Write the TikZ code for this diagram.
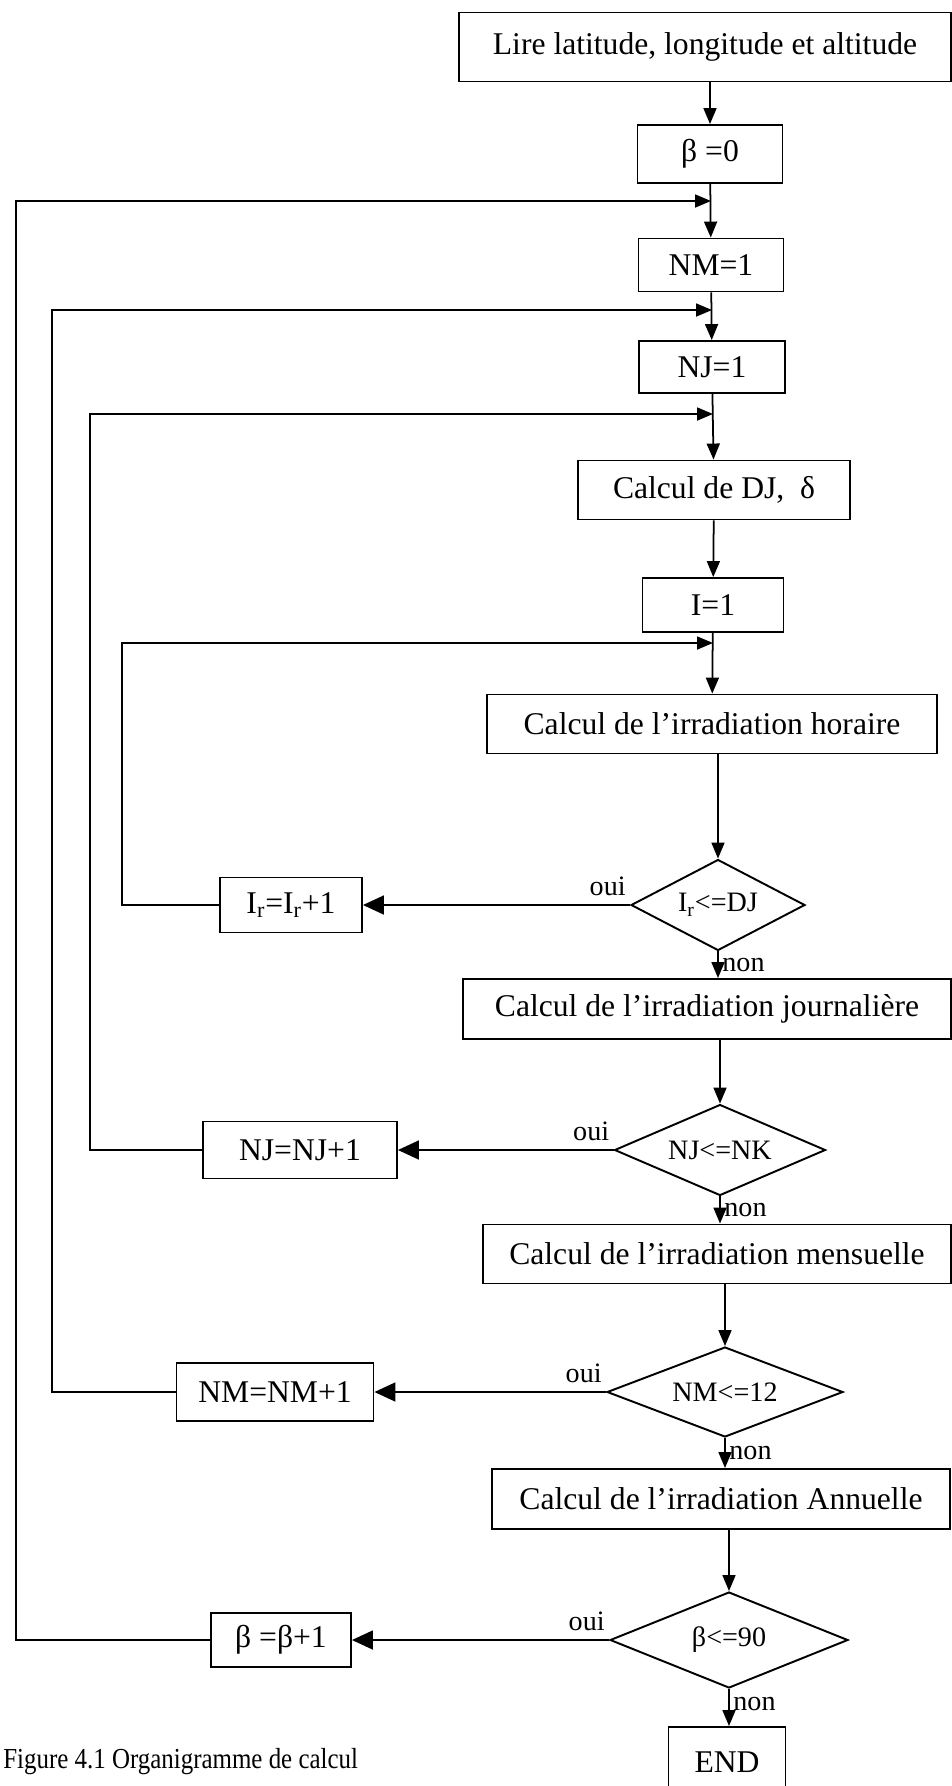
\documentclass[tikz,border=0pt]{standalone}
\usepackage{fontspec}
\setmainfont{Liberation Serif}
\newfontfamily\legendefont{Liberation Serif}[FakeStretch=0.86]
\usepackage{tikz}
\usetikzlibrary{arrows.meta,shapes.geometric}

\begin{document}
\begin{tikzpicture}[x=0.02cm, y=-0.02cm,
    etape/.style={draw, line width=1.1pt, inner sep=0pt, font=\fontsize{18}{20}\selectfont},
    test/.style={draw, diamond, aspect=2, line width=1.1pt, inner sep=0pt, font=\fontsize{16}{18}\selectfont},
    fleche/.style={line width=1pt, -{Triangle[length=0.32cm, width=0.26cm]}},
    grossefleche/.style={line width=1pt, -{Triangle[length=0.42cm, width=0.38cm]}},
    etiq/.style={font=\fontsize{16}{18}\selectfont, inner sep=2pt}]
\useasboundingbox (0,0) rectangle (952,1786);

\node[etape, minimum width=9.84cm, minimum height=1.38cm] (lire) at (705,47) {Lire latitude, longitude et altitude};
\node[etape, minimum width=2.90cm, minimum height=1.16cm] (beta_init) at (710,154) {β =0};
\node[etape, minimum width=2.90cm, minimum height=1.06cm] (nm_init) at (711,265) {NM=1};
\node[etape, minimum width=2.92cm, minimum height=1.04cm] (nj_init) at (712,367) {NJ=1};
\node[etape, minimum width=5.44cm, minimum height=1.18cm] (calcul_dj) at (714,490) {Calcul de DJ,\ \ δ};
\node[etape, minimum width=2.82cm, minimum height=1.08cm] (i_init) at (713,605) {I=1};
\node[etape, minimum width=9.02cm, minimum height=1.18cm] (irr_horaire) at (712,724) {Calcul de l’irradiation horaire};

\node[test, minimum width=3.48cm, minimum height=1.82cm] (test_ir) at (718,905) {I\textsubscript{r}<=DJ};
\node[etape, minimum width=2.84cm, minimum height=1.10cm] (incr_ir) at (291,905) {I\textsubscript{r}=I\textsubscript{r}+1};
\node[etape, minimum width=9.76cm, minimum height=1.20cm] (irr_journ) at (707,1009) {Calcul de l’irradiation journalière};

\node[test, minimum width=4.22cm, minimum height=1.82cm] (test_nj) at (720,1150) {NJ<=NK};
\node[etape, minimum width=3.88cm, minimum height=1.14cm] (incr_nj) at (300,1150) {NJ=NJ+1};
\node[etape, minimum width=9.36cm, minimum height=1.18cm] (irr_mens) at (717,1254) {Calcul de l’irradiation mensuelle};

\node[test, minimum width=4.72cm, minimum height=1.80cm] (test_nm) at (725,1392) {NM<=12};
\node[etape, minimum width=3.94cm, minimum height=1.16cm] (incr_nm) at (275,1392) {NM=NM+1};
\node[etape, minimum width=9.18cm, minimum height=1.20cm] (irr_ann) at (721,1499) {Calcul de l’irradiation Annuelle};

\node[test, minimum width=4.76cm, minimum height=1.92cm] (test_beta) at (729,1640) {β<=90};
\node[etape, minimum width=2.80cm, minimum height=1.08cm] (incr_beta) at (281,1640) {β =β+1};
\node[etape, minimum width=2.34cm, minimum height=1.40cm] (fin) at (727,1762) {END};

\node[anchor=west, inner sep=0pt, font=\legendefont\fontsize{16.5}{19}\selectfont] (legende) at (3,1762) {Figure 4.1 Organigramme de calcul};

% points de retour des boucles
\coordinate (j_beta) at (711,201);
\coordinate (j_nm) at (712,310);
\coordinate (j_nj) at (713,414);
\coordinate (j_i) at (713,643);
\coordinate (c_beta) at (16,201);
\coordinate (c_nm) at (52,310);
\coordinate (c_nj) at (90,414);
\coordinate (c_i) at (122,643);

\draw[fleche] (lire.south -| beta_init) -- (beta_init);
\draw[fleche] (beta_init) -- (nm_init);
\draw[fleche] (nm_init) -- (nj_init);
\draw[fleche] (nj_init) -- (calcul_dj);
\draw[fleche] (calcul_dj) -- (i_init);
\draw[fleche] (i_init) -- (irr_horaire);
\draw[fleche] (irr_horaire.south -| test_ir) -- (test_ir);
\draw[fleche] (test_ir) -- (test_ir |- irr_journ.north)
    node[etiq, pos=0.5, anchor=west] {non};
\draw[fleche] (irr_journ.south -| test_nj) -- (test_nj);
\draw[fleche] (test_nj) -- (test_nj |- irr_mens.north)
    node[etiq, pos=0.5, anchor=west] {non};
\draw[fleche] (irr_mens.south -| test_nm) -- (test_nm);
\draw[fleche] (test_nm) -- (test_nm |- irr_ann.north)
    node[etiq, pos=0.5, anchor=west] {non};
\draw[fleche] (irr_ann.south -| test_beta) -- (test_beta);
\draw[fleche] (test_beta) -- (test_beta |- fin.north)
    node[etiq, pos=0.4, anchor=west] {non};

\draw[grossefleche] (test_ir) -- (incr_ir)
    node[etiq, pos=0, anchor=south east, yshift=3pt] {oui};
\draw[grossefleche] (test_nj) -- (incr_nj)
    node[etiq, pos=0, anchor=south east, yshift=3pt] {oui};
\draw[grossefleche] (test_nm) -- (incr_nm)
    node[etiq, pos=0, anchor=south east, yshift=3pt] {oui};
\draw[grossefleche] (test_beta) -- (incr_beta)
    node[etiq, pos=0, anchor=south east, yshift=3pt] {oui};

\draw[fleche] (incr_ir.west) -| (c_i) -- (j_i);
\draw[fleche] (incr_nj.west) -| (c_nj) -- (j_nj);
\draw[fleche] (incr_nm.west) -| (c_nm) -- (j_nm);
\draw[fleche] (incr_beta.west) -| (c_beta) -- (j_beta);

\end{tikzpicture}
\end{document}
